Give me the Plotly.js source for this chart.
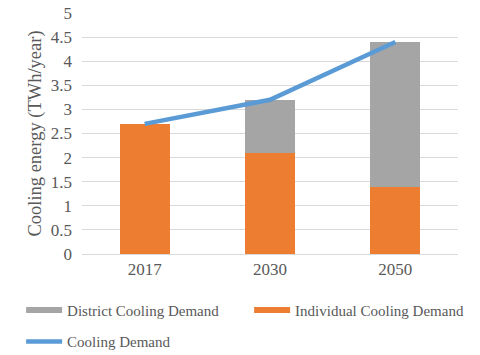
<!DOCTYPE html>
<html><head><meta charset="utf-8">
<script src="https://cdn.plot.ly/plotly-3.0.1.min.js"></script>
<style>html,body{margin:0;padding:0;background:#fff}#c{width:480px;height:355px}</style>
</head><body><div id="c"></div>
<script>
var years = ['2017', '2030', '2050'];
var individualDemand = [2.7, 2.1, 1.4];
var districtDemand = [0, 1.1, 3.0];
var coolingDemand = [2.7, 3.2, 4.4];
var yTicks = [0, 0.5, 1, 1.5, 2, 2.5, 3, 3.5, 4, 4.5, 5];
var yTickText = ['0', '0.5', '1', '1.5', '2', '2.5', '3', '3.5', '4', '4.5', '5'];

var cOrange = '#ED7D31', cGray = '#A5A5A5', cBlue = '#5B9BD5';
var fam = 'Times New Roman';
var txt = '#595959';

var traces = [
  {type:'bar', x:years, y:individualDemand, name:'Individual Cooling Demand', marker:{color:cOrange}, showlegend:false, width:0.4},
  {type:'bar', x:years, y:districtDemand, name:'District Cooling Demand', marker:{color:cGray}, showlegend:false, width:0.4},
  {type:'scatter', mode:'lines', x:years, y:coolingDemand, name:'Cooling Demand', line:{color:cBlue, width:4.5}, legend:'legend3'},
  {type:'scatter', mode:'lines', x:[null], y:[null], name:'District Cooling Demand', line:{color:cGray, width:6}, legend:'legend'},
  {type:'scatter', mode:'lines', x:[null], y:[null], name:'Individual Cooling Demand', line:{color:cOrange, width:6}, legend:'legend2'}
];

function leg(x, y) {
  return {orientation:'h', xref:'container', yref:'container', x:x, y:y, xanchor:'left', yanchor:'middle',
    itemwidth:36, font:{family:fam, size:15, color:txt}, bgcolor:'rgba(0,0,0,0)', borderwidth:0};
}

var layout = {
  width:480, height:355,
  margin:{l:82, r:22, t:13, b:101},
  paper_bgcolor:'#fff', plot_bgcolor:'#fff',
  barmode:'stack',
  font:{family:fam, color:txt, size:15},
  xaxis:{type:'category', showgrid:false, showline:true, linecolor:'#D9D9D9', linewidth:1, ticks:'', tickfont:{family:fam, size:17, color:txt}, fixedrange:true},
  yaxis:{range:[0,5], tickvals:yTicks, ticktext:yTickText, showgrid:true, gridcolor:'#D9D9D9', gridwidth:1, zeroline:false, showline:false, ticks:'', ticklabelstandoff:9, tickfont:{family:fam, size:17, color:txt},
    title:{text:'Cooling energy (TWh/year)', font:{family:fam, size:18.5, color:txt}, standoff:4}},
  legend:leg(0.044, 0.126),
  legend2:leg(0.519, 0.126),
  legend3:leg(0.044, 0.037),
  showlegend:true
};
Plotly.newPlot('c', traces, layout, {staticPlot:true, displayModeBar:false});
</script></body></html>
